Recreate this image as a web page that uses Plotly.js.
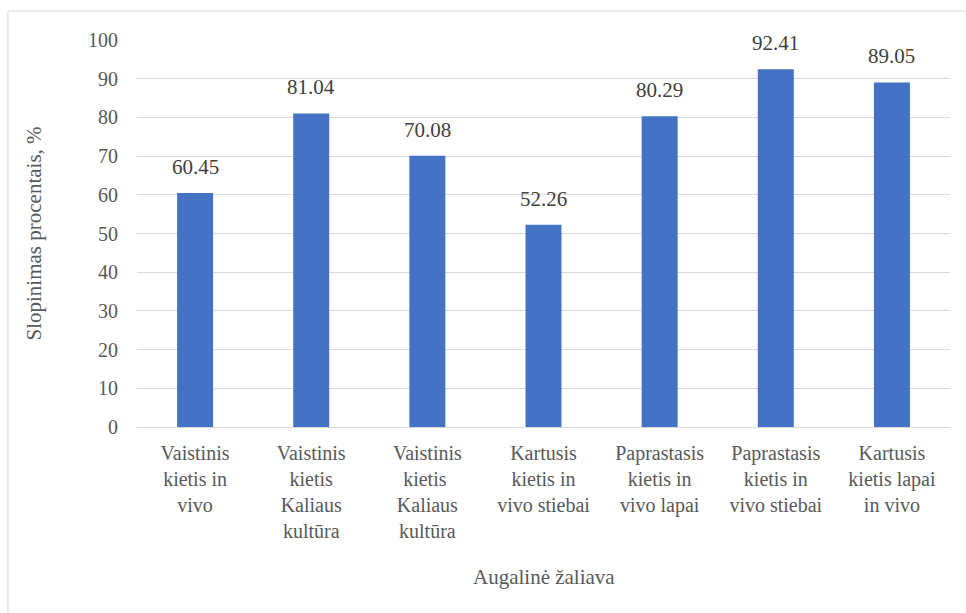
<!DOCTYPE html>
<html>
<head>
<meta charset="utf-8">
<script src="https://cdn.plot.ly/plotly-3.0.1.min.js"></script>
<style>
html,body{margin:0;padding:0;background:#fff;font-family:'Times New Roman';font-size:20px;}
</style>
</head>
<body>
<div id="chart" style="width:966px;height:613px"></div>
<script>
var categories = [
  "Vaistinis<br>kietis in<br>vivo",
  "Vaistinis<br>kietis<br>Kaliaus<br>kultūra",
  "Vaistinis<br>kietis <br>Kaliaus<br>kultūra",
  "Kartusis<br>kietis in<br>vivo stiebai",
  "Paprastasis<br>kietis in<br>vivo lapai",
  "Paprastasis<br>kietis in<br>vivo stiebai",
  "Kartusis<br>kietis lapai<br>in vivo"
];
var values = [60.45, 81.04, 70.08, 52.26, 80.29, 92.41, 89.05];
var labels = ["60.45", "81.04", "70.08", "52.26", "80.29", "92.41", "89.05"];
var yTicks = [0, 10, 20, 30, 40, 50, 60, 70, 80, 90, 100];

var FONT = "Times New Roman";

var trace = {
  type: "bar",
  x: categories,
  y: values,
  marker: {color: "#4472C4"},
  hoverinfo: "none"
};

var annotations = categories.map(function(c, i){
  return {
    x: c, y: values[i], xref: "x", yref: "y",
    text: labels[i], showarrow: false,
    yanchor: "bottom", yshift: 12,
    font: {family: FONT, size: 21, color: "#404040"}
  };
});
annotations.push({
  xref: "paper", yref: "paper", x: 0.5, y: 0, yshift: -150, yanchor: "middle",
  text: "Augalinė žaliava", showarrow: false,
  font: {family: FONT, size: 21, color: "#595959"}
});
annotations.push({
  xref: "paper", yref: "paper", x: 0, xshift: -104, y: 0.5, xanchor: "center",
  text: "Slopinimas procentais, %", showarrow: false, textangle: -90,
  font: {family: FONT, size: 21, color: "#595959"}
});

var layout = {
  width: 966, height: 613,
  margin: {l: 137, r: 16, t: 40, b: 186},
  paper_bgcolor: "#ffffff",
  plot_bgcolor: "#ffffff",
  showlegend: false,
  bargap: 0.69,
  font: {family: FONT, size: 20, color: "#595959"},
  xaxis: {
    type: "category",
    showgrid: false,
    showline: true, linecolor: "#d9d9d9", linewidth: 1,
    ticks: "", tickfont: {family: FONT, size: 20, color: "#595959"},
    ticklabelstandoff: 8,
    fixedrange: true
  },
  yaxis: {
    range: [0, 100],
    tickvals: yTicks,
    ticktext: yTicks.map(String),
    showgrid: true, gridcolor: "#d9d9d9", gridwidth: 1,
    zeroline: false, showline: false,
    ticks: "", tickfont: {family: FONT, size: 20, color: "#595959"},
    ticklabelstandoff: 18,
    fixedrange: true
  },
  shapes: [
    {type: "line", xref: "paper", yref: "paper", x0: -0.1587, x1: -0.1587, y0: 1.0749, y1: -0.6,
     line: {color: "#d9d9d9", width: 1}},
    {type: "line", xref: "paper", yref: "paper", x0: -0.1587, x1: 1.1, y0: 1.0749, y1: 1.0749,
     line: {color: "#d9d9d9", width: 1}}
  ],
  annotations: annotations
};

Plotly.newPlot("chart", [trace], layout, {displayModeBar: false});
</script>
</body>
</html>
